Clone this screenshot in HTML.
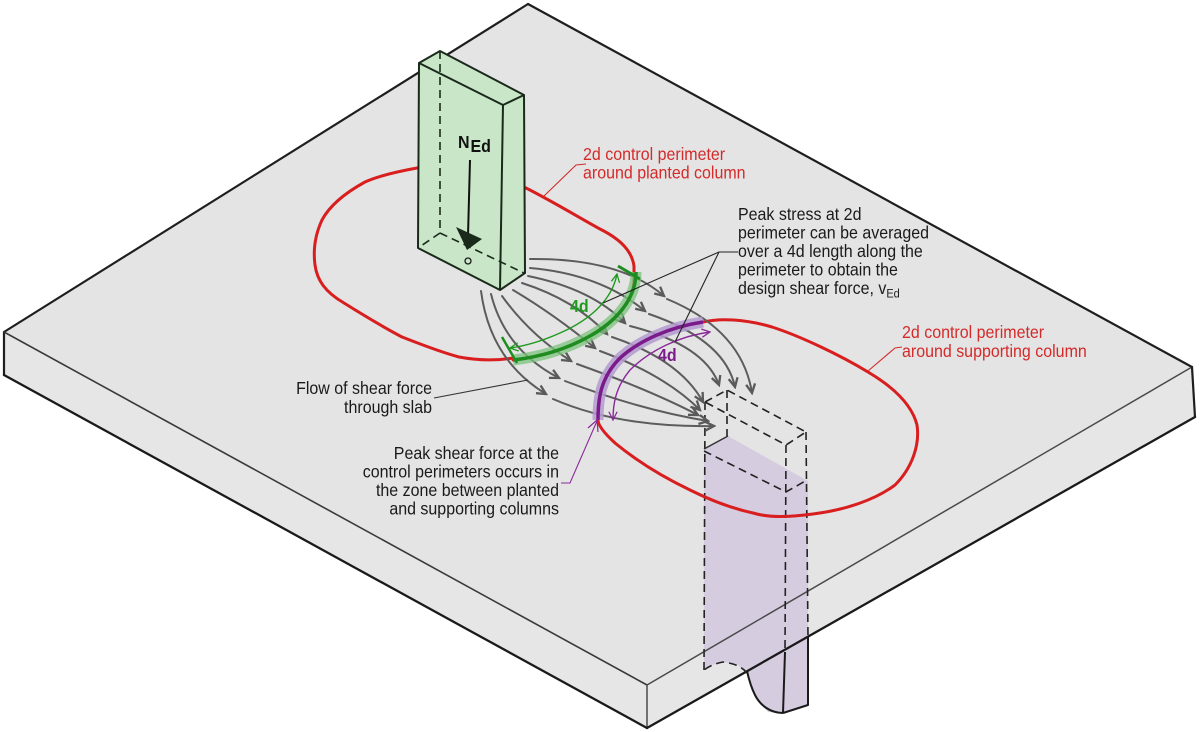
<!DOCTYPE html>
<html><head><meta charset="utf-8"><style>
html,body{margin:0;padding:0;background:#fff;}
svg{display:block;}
text{font-family:"Liberation Sans",Arial,sans-serif;font-size:16px;}
</style></head><body>
<svg width="1200" height="732" viewBox="0 0 1200 732" xmlns="http://www.w3.org/2000/svg">
<defs>
<marker id="ag" viewBox="0 0 12 12" refX="10" refY="6" markerWidth="12" markerHeight="12" markerUnits="userSpaceOnUse" orient="auto"><path d="M1,1.5 L10,6 L1,10.5" fill="none" stroke="#5a5a5a" stroke-width="2.3"/></marker>
<marker id="agr" viewBox="0 0 12 12" refX="10" refY="6" markerWidth="11" markerHeight="11" markerUnits="userSpaceOnUse" orient="auto-start-reverse"><path d="M1,1.5 L10,6 L1,10.5" fill="none" stroke="#1e9a1e" stroke-width="1.4"/></marker>
<marker id="apu" viewBox="0 0 12 12" refX="10" refY="6" markerWidth="11" markerHeight="11" markerUnits="userSpaceOnUse" orient="auto-start-reverse"><path d="M1,1.5 L10,6 L1,10.5" fill="none" stroke="#8a2a9a" stroke-width="1.4"/></marker>
</defs>

<!-- slab faces -->
<polygon points="528,4 1192,367 647,685 4,332" fill="#e4e4e4"/>
<polygon points="4,332 647,685 647,728 4,375" fill="#e6e6e6"/>
<polygon points="647,685 1192,367 1195,417 647,728" fill="#e6e6e6"/>

<!-- supporting column fill (seen through slab) -->
<polygon points="704,449 728,436 808,481 808,705 783,713 768,712 757,700 750,685 747,673 738,665 723,662 712,665 704,670" fill="#d6cce0"/>

<!-- slab outlines -->
<g fill="none" stroke-linecap="round" stroke-linejoin="round">
<path d="M528,4 L1192,367" stroke="#1e1e1e" stroke-width="2.2"/>
<path d="M528,4 L4,332" stroke="#1e1e1e" stroke-width="2.2"/>
<path d="M4,332 L4,375" stroke="#1e1e1e" stroke-width="2.2"/>
<path d="M4,332 L647,685" stroke="#3a3a3a" stroke-width="1.6"/>
<path d="M647,685 L1192,367" stroke="#4a4a4a" stroke-width="1.5"/>
<path d="M647,685 L647,728" stroke="#4a4a4a" stroke-width="1.5"/>
<path d="M1192,367 L1195,417" stroke="#1e1e1e" stroke-width="2.2"/>
<path d="M4,375 L647,728" stroke="#1a1a1a" stroke-width="2.3"/>
<path d="M647,728 L1195,417" stroke="#1a1a1a" stroke-width="2.3"/>
</g>

<!-- supporting column lines -->
<g fill="none" stroke="#222" stroke-width="1.6" stroke-dasharray="8 5">
<path d="M705,402 L727,390 L806,432 L786,445 Z"/>
<path d="M705,402 L704,670"/>
<path d="M727,390 L727,436"/>
<path d="M806,432 L808,637"/>
<path d="M786,445 L785,652"/>
<path d="M704,451 L786,492 L807,480"/>
<path d="M747,673 Q740,664 723,662 Q712,664 704,670"/>
</g>
<path d="M704,449 L728,436" stroke="#333" stroke-width="1.5" fill="none"/>
<g fill="none" stroke="#1a1a1a" stroke-width="2" stroke-linejoin="round">
<path d="M808,637 L808,705 L783,713"/>
<path d="M785,652 L783,713"/>
<path d="M783,713 C770,713 760,705 755,695 C751,687 749,680 747,671"/>
</g>

<!-- red perimeters -->
<g fill="none" stroke="#d81e1e" stroke-width="3" stroke-linejoin="round" stroke-linecap="round">
<path d="M417,168 C395,172 378,176 365,182 C345,193 330,205 322,220 C315,235 313,250 315,265 C317,280 325,292 344,303 C360,313 385,328 402,337 C420,344 440,352 459,357 C475,360 494,361 513,358"/>
<path d="M526,188 C550,200 580,218 600,229 C622,240 632,252 634,266 L634,280 C634,300 615,322 590,336 C565,350 540,357 513,360"/>
<path d="M703,322 C720,318 745,319 772,327 C800,336 840,355 868,372 C895,388 912,405 917,425 C920,445 912,468 895,485 C875,500 845,510 813,514 C790,517 770,518 753,513 C730,508 710,500 690,490 C665,478 638,462 615,443 C603,432 598,425 598,420 C598,400 600,378 620,358 C640,340 670,327 703,322"/>
</g>

<!-- green planted column -->
<polygon points="419,63 440,51 524,95 525,273 500,290 418,248" fill="#c9e6c9"/>
<g fill="none" stroke="#1a2a1a" stroke-width="2" stroke-linejoin="round">
<path d="M419,63 L440,51 L524,95 L503,105 Z"/>
<path d="M419,63 L418,248 L500,290 L525,273 L524,95"/>
<path d="M503,105 L500,290"/>
</g>
<g fill="none" stroke="#1a2a1a" stroke-width="1.6" stroke-dasharray="8 5">
<path d="M440,51 L440,233"/>
<path d="M440,233 L418,248"/>
<path d="M440,233 L524,273"/>
</g>
<path d="M470,160 L468,236" stroke="#111" stroke-width="2"/>
<polygon points="456,227 482,239 467,250" fill="#1a2a1a"/>
<circle cx="468" cy="261" r="3" fill="none" stroke="#1a1a1a" stroke-width="1.3"/>
<g transform="translate(458,148) scale(1,1.1)"><text x="0" y="0" font-weight="bold" font-size="16" fill="#111">N</text></g>
<g transform="translate(470.5,152) scale(1,1.1)"><text x="0" y="0" font-weight="bold" font-size="11.5" fill="#111">Ed</text></g>

<!-- flow arrows -->
<g fill="none" stroke="#5c5c5c" stroke-width="2" stroke-linecap="round">
<path d="M530,259 Q620,258 664,296" marker-end="url(#ag)"/>
<path d="M667,299 Q742,330 752,393" marker-end="url(#ag)"/>
<path d="M530,268 Q600,274 645,311" marker-end="url(#ag)"/>
<path d="M649,314 Q725,340 735,387" marker-end="url(#ag)"/>
<path d="M528,276 Q592,289 625,323" marker-end="url(#ag)"/>
<path d="M630,326 Q705,345 719,385" marker-end="url(#ag)"/>
<path d="M522,283 Q575,300 607,334" marker-end="url(#ag)"/>
<path d="M612,337 Q680,360 703,402" marker-end="url(#ag)"/>
<path d="M513,290 Q555,315 595,348" marker-end="url(#ag)"/>
<path d="M600,351 Q665,375 700,410" marker-end="url(#ag)"/>
<path d="M502,296 Q530,335 571,361" marker-end="url(#ag)"/>
<path d="M577,364 Q650,390 698,415" marker-end="url(#ag)"/>
<path d="M491,294 Q505,350 559,378" marker-end="url(#ag)"/>
<path d="M565,381 Q640,410 708,421" marker-end="url(#ag)"/>
<path d="M481,291 Q490,360 546,394" marker-end="url(#ag)"/>
<path d="M553,399 Q620,428 714,426" marker-end="url(#ag)"/>
</g>

<!-- green band -->
<path d="M636,272 C636,300 615,322 590,336 C565,350 540,357 513,360" fill="none" stroke="#7cc27c" stroke-opacity="0.75" stroke-width="11" stroke-linecap="butt"/>
<path d="M636,272 C636,300 615,322 590,336 C565,350 540,357 513,360" fill="none" stroke="#1f8c1f" stroke-width="3.5"/>
<path d="M618,266 L640,279" stroke="#1f8c1f" stroke-width="3"/>
<path d="M502,337 L517,363" stroke="#1f8c1f" stroke-width="2.5"/>
<path d="M617,274 C612,300 590,320 560,333 C540,342 525,346 510,348" fill="none" stroke="#1e9a1e" stroke-width="1.4" marker-start="url(#agr)" marker-end="url(#agr)"/>
<g transform="translate(570,312) scale(1,1.1)"><text x="0" y="0" font-weight="bold" font-size="15" fill="#1e9a1e">4d</text></g>

<!-- purple band -->
<path d="M703,322 C670,327 640,340 620,358 C600,378 598,400 598,420" fill="none" stroke="#b49ad0" stroke-opacity="0.85" stroke-width="11"/>
<path d="M703,322 C670,327 640,340 620,358 C600,378 598,400 598,420" fill="none" stroke="#7b1b8b" stroke-width="3.5"/>
<path d="M710,332 C680,336 650,350 630,370 C615,388 613,405 613,420" fill="none" stroke="#8a2a9a" stroke-width="1.4" marker-start="url(#apu)" marker-end="url(#apu)"/>
<g transform="translate(658,361) scale(1,1.1)"><text x="0" y="0" font-weight="bold" font-size="15" fill="#7b1b8b">4d</text></g>

<!-- leaders -->
<g fill="none" stroke-width="1.1">
<path d="M586,164 L576,165 L543,197" stroke="#d42a2a"/>
<path d="M902,347 L895,348 L868,371" stroke="#d42a2a"/>
<path d="M738,252 L719,252 L603,303" stroke="#222"/>
<path d="M719,252 L675,342" stroke="#222"/>
<path d="M434,398 L528,380" stroke="#333"/>
<path d="M561,483 L570,483 L597,421" stroke="#8a2a9a"/>
</g>
<path d="M588,428 L597,420 L598,432" fill="none" stroke="#8a2a9a" stroke-width="1.2"/>

<!-- texts -->
<g fill="#d42a2a" transform="translate(583,160) scale(1,1.1)">
<text x="0" y="0">2d control perimeter</text>
<text x="0" y="16.82">around planted column</text>
</g>
<g fill="#d42a2a" transform="translate(902,338) scale(1,1.1)">
<text x="0" y="0">2d control perimeter</text>
<text x="0" y="17.27">around supporting column</text>
</g>
<g fill="#1a1a1a" transform="translate(738,220) scale(1,1.1)">
<text x="0" y="0">Peak stress at 2d</text>
<text x="0" y="16.82">perimeter can be averaged</text>
<text x="0" y="33.64">over a 4d length along the</text>
<text x="0" y="50.45">perimeter to obtain the</text>
<text x="0" y="67.27">design shear force, v<tspan font-size="11" dy="3">Ed</tspan></text>
</g>
<g fill="#1a1a1a" text-anchor="end" transform="translate(432,394) scale(1,1.1)">
<text x="0" y="0">Flow of shear force</text>
<text x="0" y="17.27">through slab</text>
</g>
<g fill="#1a1a1a" text-anchor="end" transform="translate(559,459) scale(1,1.1)">
<text x="0" y="0">Peak shear force at the</text>
<text x="0" y="16.82">control perimeters occurs in</text>
<text x="0" y="33.64">the zone between planted</text>
<text x="0" y="50.45">and supporting columns</text>
</g>
</svg>
</body></html>
